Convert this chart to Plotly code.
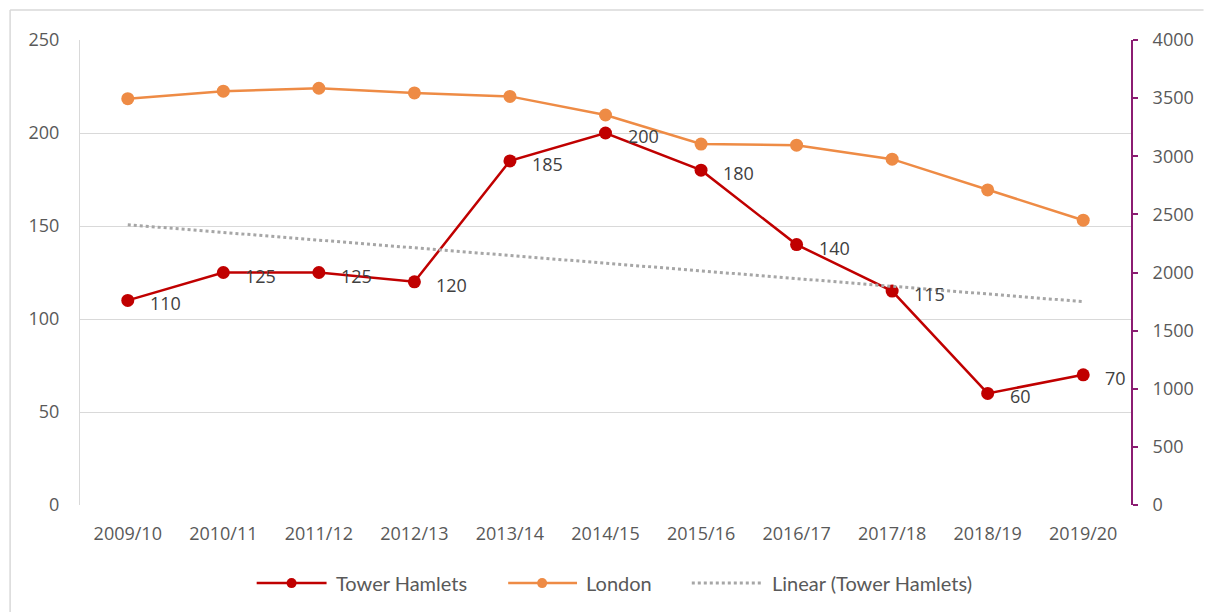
import numpy as np
import plotly.graph_objects as go

years = ["2009/10", "2010/11", "2011/12", "2012/13", "2013/14", "2014/15",
         "2015/16", "2016/17", "2017/18", "2018/19", "2019/20"]
tower_hamlets = [110, 125, 125, 120, 185, 200, 180, 140, 115, 60, 70]
london = [3495, 3560, 3585, 3545, 3515, 3355, 3105, 3095, 2975, 2710, 2450]
left_ticks = [0, 50, 100, 150, 200, 250]
right_ticks = [0, 500, 1000, 1500, 2000, 2500, 3000, 3500, 4000]
series_names = ["Tower Hamlets", "London", "Linear (Tower Hamlets)"]

# linear trendline of Tower Hamlets (as the chart's "Linear" trendline)
idx = np.arange(1, len(years) + 1)
slope, intercept = np.polyfit(idx, tower_hamlets, 1)
trend = (slope * idx + intercept).tolist()

FONT = "Open Sans"
LFONT = "Lato"
GREY = "#595959"
RED = "#C00000"
ORANGE = "#EE8B45"
TREND = "#A6A6A6"
PURPLE = "#8B1C72"
NUM = 18

fig = go.Figure()
fig.add_trace(go.Scatter(
    x=years, y=tower_hamlets, name=series_names[0], mode="lines+markers",
    line=dict(color=RED, width=2.5), marker=dict(color=RED, size=13),
    yaxis="y"))
fig.add_trace(go.Scatter(
    x=years, y=london, name=series_names[1], mode="lines+markers",
    line=dict(color=ORANGE, width=2.5), marker=dict(color=ORANGE, size=13),
    yaxis="y2"))
fig.add_trace(go.Scatter(
    x=years, y=trend, name=series_names[2], mode="lines",
    line=dict(color=TREND, width=3, dash="dot"), yaxis="y"))

# data labels
for yr, v in zip(years, tower_hamlets):
    fig.add_annotation(x=yr, y=v, xref="x", yref="y", text=str(v),
                       showarrow=False, xanchor="left", yanchor="middle",
                       xshift=20, yshift=-3,
                       font=dict(family=FONT, size=NUM, color="#404040"))

# custom legend (Excel-style long symbol lines)
LY = -0.168
legend_items = [
    (series_names[0], RED, "solid", True, 0.1681, 0.2346, 0.2013, 0.2412),
    (series_names[1], ORANGE, "solid", True, 0.4074, 0.4729, 0.4397, 0.4796),
    (series_names[2], TREND, "dot", False, 0.5821, 0.6496, None, 0.6562),
]
for name, col, dash, mk, lx0, lx1, mx, tx in legend_items:
    fig.add_shape(type="line", xref="paper", yref="paper",
                  x0=lx0, x1=lx1, y0=LY, y1=LY,
                  line=dict(color=col, width=2.5 if mk else 3, dash=dash))
    if mk:
        fig.add_shape(type="circle", xref="paper", yref="paper",
                      xsizemode="pixel", ysizemode="pixel",
                      xanchor=mx, yanchor=LY, x0=-5, x1=5, y0=-5, y1=5,
                      fillcolor=col, line=dict(color=col, width=0))
    fig.add_annotation(x=tx, y=LY, xref="paper", yref="paper", text=name,
                       showarrow=False, xanchor="left", yanchor="middle",
                       font=dict(family=LFONT, size=20, color=GREY))

# outer border (left and top only visible)
fig.add_shape(type="line", xref="paper", yref="paper",
              x0=-0.0665, x1=-0.0665, y0=1.0645, y1=-0.24,
              line=dict(color="#D9D9D9", width=1.5))
fig.add_shape(type="line", xref="paper", yref="paper",
              x0=-0.0665, x1=1.069, y0=1.0645, y1=1.0645,
              line=dict(color="#D9D9D9", width=1.5))

fig.update_layout(
    width=1206, height=612,
    margin=dict(l=80, r=73, t=40, b=107),
    paper_bgcolor="white", plot_bgcolor="white",
    font=dict(family=FONT, size=NUM, color=GREY),
    showlegend=False,
    xaxis=dict(
        type="category", range=[-0.5, 10.5], showgrid=False,
        showline=False, ticks="", tickfont=dict(size=NUM, color=GREY),
        ticklabelstandoff=16),
    yaxis=dict(
        range=[0, 250], tickvals=left_ticks, showgrid=True,
        gridcolor="#D9D9D9", gridwidth=1, zeroline=False,
        showline=True, linecolor="#D9D9D9", linewidth=1,
        ticks="", tickfont=dict(size=NUM, color=GREY), ticklabelstandoff=16),
    yaxis2=dict(
        range=[0, 4000], tickvals=right_ticks, overlaying="y", side="right",
        showgrid=False, zeroline=False, showline=True, linecolor=PURPLE,
        linewidth=2, ticks="outside", ticklen=5, tickcolor=PURPLE,
        tickwidth=2, tickfont=dict(size=NUM, color=GREY), ticklabelstandoff=11),
)

fig.write_html("out.html", config={"displayModeBar": False},
               post_script="document.body.style.margin='0px';"
                           "document.body.style.overflow='hidden';")
